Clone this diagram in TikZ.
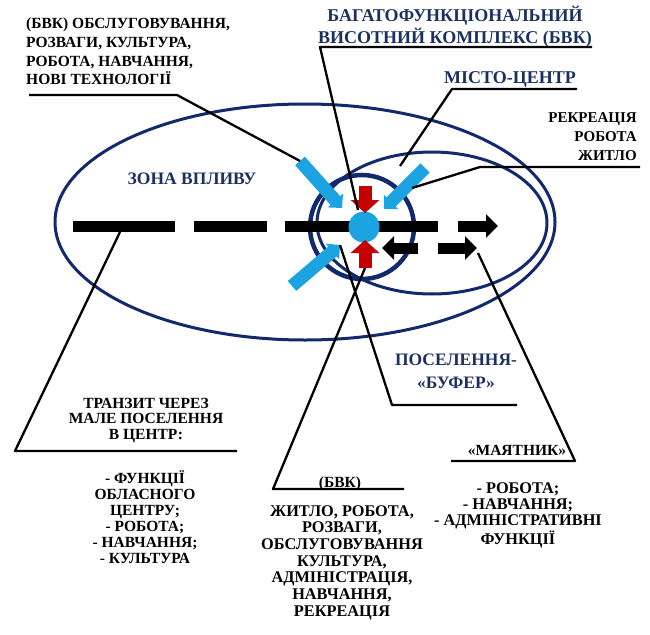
\documentclass[tikz,border=0pt]{standalone}
\usepackage{fontspec}
\setmainfont{Liberation Serif}
\usepackage{tikz}
\usetikzlibrary{arrows.meta,positioning,calc}

\definecolor{navy}{RGB}{18,42,108}
\definecolor{navytext}{RGB}{28,48,96}
\definecolor{skyblue}{RGB}{28,164,226}
\definecolor{darkred}{RGB}{196,0,0}

\begin{document}
\begin{tikzpicture}[
    x=1pt, y=-1pt,
    ring/.style={draw=navy, line width=3pt},
    bar/.style={line width=11pt, black},
    bararrow/.style={bar, -{Triangle[length=12pt,width=23pt]}},
    redarrow/.style={line width=13pt, darkred, -{Triangle[length=13pt,width=28pt]}},
    bluearrow/.style={line width=13pt, skyblue, -{Triangle[length=10pt,width=20pt]}},
    leader/.style={draw, line width=2.3pt, line join=round},
    zonetext/.style={font=\bfseries\fontsize{17.5}{23}\selectfont, text=navytext, align=center, inner sep=0pt},
    blacktext/.style={font=\bfseries\fontsize{15.5}{16.5}\selectfont, align=center, inner sep=0pt}
]
\useasboundingbox (0,0) rectangle (650,634);

% Zones
\draw[ring] (305,222) ellipse [x radius=250pt, y radius=118pt];
\draw[ring] (432,223) ellipse [x radius=115pt, y radius=71pt];
\draw[ring, line width=4.5pt] (362,227) circle [radius=52pt];

% Transit line
\draw[bar] (73,226) coordinate (dash1w) -- (175,226);
\draw[bar] (194,226) -- (267,226);
\draw[bar] (285,226) -- (438,226);
\draw[bararrow] (458,226) -- (498,226);
\draw[bararrow] (418,248) -- (382,248);
\draw[bararrow] (438,248) -- (477,248) coordinate (pendTip);

% Centre and flows
\node[circle, fill=skyblue, minimum size=31pt, inner sep=0pt] (centre) at (364,227) {};
\draw[redarrow] (365,186) -- (365,213) coordinate (redTop);
\draw[redarrow] (365,268) coordinate (redBottom) -- (365,240);
\draw[bluearrow] (300,161) coordinate (blueTL) -- (342,208);
\draw[bluearrow] (425,168) coordinate (blueTR) -- (384,209);
\draw[bluearrow] (292,286) -- (340,245) coordinate (blueBL);

% Zone names
\node[zonetext, font=\bfseries\fontsize{18}{22}\selectfont, anchor=north] (bvk) at (455,6)
    {БАГАТОФУНКЦІОНАЛЬНИЙ\\ВИСОТНИЙ КОМПЛЕКС (БВК)};
\node[zonetext, font=\bfseries\fontsize{18}{22}\selectfont, anchor=north] (city) at (510,71) {МІСТО-ЦЕНТР};
\node[zonetext, anchor=north] (zone) at (192,173) {ЗОНА ВПЛИВУ};
\node[zonetext, anchor=north] (buffer) at (456,354) {ПОСЕЛЕННЯ-\\«БУФЕР»};

% Functions
\node[blacktext, align=left, anchor=north west, font=\bfseries\fontsize{15.5}{18.6}\selectfont] (services) at (26,18)
    {(БВК) ОБСЛУГОВУВАННЯ,\\РОЗВАГИ, КУЛЬТУРА,\\РОБОТА, НАВЧАННЯ,\\НОВІ ТЕХНОЛОГІЇ};
\node[blacktext, align=right, anchor=north east, font=\bfseries\fontsize{15}{19}\selectfont] (recreation) at (637,112)
    {РЕКРЕАЦІЯ\\РОБОТА\\ЖИТЛО};
\node[blacktext, anchor=north, font=\bfseries\fontsize{15.5}{15.3}\selectfont] (transit) at (146,398)
    {ТРАНЗИТ ЧЕРЕЗ\\МАЛЕ ПОСЕЛЕННЯ\\В ЦЕНТР:};
\node[blacktext, anchor=north, font=\bfseries\fontsize{15.5}{16}\selectfont] (transitList) at (145,470)
    {- ФУНКЦІЇ\\ОБЛАСНОГО\\ЦЕНТРУ;\\- РОБОТА;\\- НАВЧАННЯ;\\- КУЛЬТУРА};
\node[blacktext, anchor=north] (bvkShort) at (340,477) {(БВК)};
\node[blacktext, anchor=north, font=\bfseries\fontsize{16.3}{16.7}\selectfont] (bvkList) at (342,505)
    {ЖИТЛО, РОБОТА,\\РОЗВАГИ,\\ОБСЛУГОВУВАННЯ\\КУЛЬТУРА,\\АДМІНІСТРАЦІЯ,\\НАВЧАННЯ,\\РЕКРЕАЦІЯ};
\node[blacktext, anchor=north] (pendulum) at (517,445) {«МАЯТНИК»};
\node[blacktext, anchor=north, font=\bfseries\fontsize{16.3}{16.5}\selectfont] (pendulumList) at (518,482)
    {- РОБОТА;\\- НАВЧАННЯ;\\- АДМІНІСТРАТИВНІ\\ФУНКЦІЇ};

% Leaders
\draw[leader] (29,95) -- (177,95) -- (blueTL);
\draw[leader] (592,47) -- (320,47) -- ($(redTop)+(-7,-3)$);
\draw[leader] (577,89) -- (452,89) -- (400,166);
\draw[leader] (640,167) -- (480,167) -- ($(blueTR)+(-13,20)$);
\draw[leader] (517,405) -- (392,405) -- (blueBL);
\draw[leader] (237,451) -- (15,451) -- ($(dash1w)+(47,6)$);
\draw[leader] (404,489) -- (273,489) -- (redBottom);
\draw[leader] (451,461) -- (575,461) -- ($(pendTip)+(1,5)$);

\end{tikzpicture}
\end{document}
